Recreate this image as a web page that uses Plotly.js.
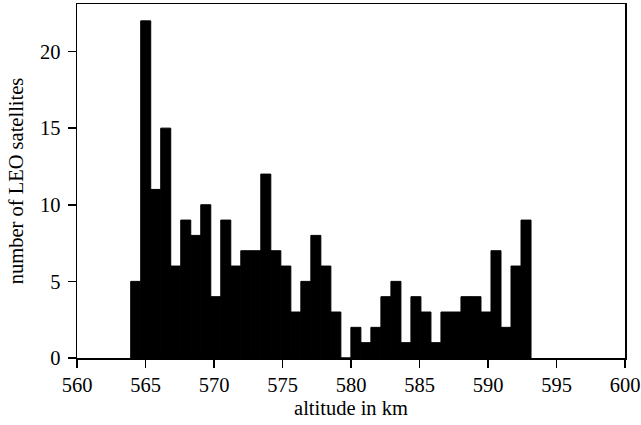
<!DOCTYPE html>
<html>
<head>
<meta charset="utf-8">
<script src="https://cdn.plot.ly/plotly-3.0.1.min.js"></script>
<style>html,body{margin:0;padding:0;background:#fff;}#chart{width:641px;height:425px;}</style>
</head>
<body>
<div id="chart"></div>
<script>
// Histogram of LEO satellite altitudes (40 bins)
const binStart = 563.92;   // km, left edge of first bin
const binWidth = 0.7305;   // km
const counts = [5,22,11,15,6,9,8,10,4,9,6,7,7,12,7,6,3,5,8,6,3,0,2,1,2,4,5,1,4,3,1,3,3,4,4,3,7,2,6,9];
const xTicks = [560,565,570,575,580,585,590,595,600];
const yTicks = [0,5,10,15,20];

const centers = counts.map((_, i) => binStart + binWidth * (i + 0.5));

const font = {family: '"Liberation Serif", "Times New Roman", serif', size: 20.5, color: '#000'};

const trace = {
  type: 'bar',
  x: centers,
  y: counts,
  width: counts.map(() => binWidth),
  marker: {color: '#000', line: {color: '#000', width: 1}},
  hoverinfo: 'x+y'
};

const layout = {
  width: 641, height: 425,
  margin: {l: 77, r: 16, t: 4, b: 67, pad: 0},
  paper_bgcolor: '#fff', plot_bgcolor: '#fff',
  font: font,
  showlegend: false,
  bargap: 0,
  xaxis: {
    range: [560, 600], tickvals: xTicks, ticktext: xTicks.map(String),
    ticks: 'outside', ticklen: 8, tickwidth: 1.5, tickcolor: '#000',
    showline: true, linecolor: '#000', linewidth: 1.5, mirror: true,
    showgrid: false, zeroline: false,
    tickfont: font,
    title: {text: 'altitude in km', font: font, standoff: 5},
    automargin: false
  },
  yaxis: {
    range: [0, 23.1], tickvals: yTicks, ticktext: yTicks.map(String),
    ticks: 'outside', ticklen: 8, tickwidth: 1.5, tickcolor: '#000',
    showline: true, linecolor: '#000', linewidth: 1.5, mirror: true,
    showgrid: false, zeroline: false,
    tickfont: font,
    ticklabelstandoff: 3,
    title: {text: 'number of LEO satellites', font: font, standoff: 10},
    automargin: false
  }
};

Plotly.newPlot('chart', [trace], layout, {staticPlot: true, displayModeBar: false});
</script>
</body>
</html>
